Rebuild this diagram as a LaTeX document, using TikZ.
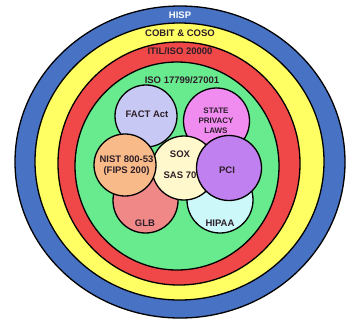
\documentclass[tikz,border=0pt]{standalone}
\usepackage{fontspec}
\setmainfont{Liberation Sans}
\usetikzlibrary{positioning}
\definecolor{hispblue}{RGB}{72,114,196}
\definecolor{cobityellow}{RGB}{255,255,100}
\definecolor{itilred}{RGB}{240,72,72}
\definecolor{isogreen}{RGB}{104,234,142}
\definecolor{factlav}{RGB}{200,200,244}
\definecolor{statepink}{RGB}{240,140,240}
\definecolor{nistpeach}{RGB}{248,186,136}
\definecolor{soxcream}{RGB}{255,248,204}
\definecolor{pcipurple}{RGB}{192,128,240}
\definecolor{glbsalmon}{RGB}{240,136,136}
\definecolor{hipaacyan}{RGB}{204,248,250}
\definecolor{labeldark}{RGB}{45,30,40}

\tikzset{
  ring/.style={draw=black, line width=1.3pt},
  lawlabel/.style={font=\bfseries\fontsize{9.5}{10.7}\selectfont, text=labeldark, align=center, inner sep=0pt},
  smalllabel/.style={lawlabel, font=\bfseries\fontsize{8}{10}\selectfont},
}

\begin{document}
\begin{tikzpicture}[x=1pt,y=-1pt]
            \useasboundingbox (0,0) rectangle (352,322);

            % outer rings
            \filldraw[ring, fill=hispblue] (180,162) ellipse [x radius=165pt, y radius=156pt];
            \filldraw[ring, fill=cobityellow] (179.5,161.5) ellipse [x radius=144.5pt, y radius=138.5pt];
            \filldraw[ring, fill=itilred] (179,163.5) ellipse [x radius=121pt, y radius=121.5pt];
            \filldraw[ring, fill=isogreen] (177,166) ellipse [x radius=102pt, y radius=104pt];

            \node[lawlabel, text=white] (hisp) at (180,15) {HISP};
            \node[lawlabel] (cobit) at (180,33) {COBIT \& COSO};
            \node[lawlabel] (itil) at (180,51) {ITIL/ISO 20000};
            \node[lawlabel] (iso) at (182,80) {ISO 17799/27001};

            % inner circles
            \coordinate (FACT) at (146,116);
            \filldraw[ring, fill=factlav] (FACT) circle (31pt);

            \coordinate (STATE) at (216.5,121);
            \filldraw[ring, fill=statepink] (STATE) circle (33pt);

            \coordinate (GLB) at (145.5,200.5);
            \filldraw[ring, fill=glbsalmon] (GLB) circle (32.5pt);

            \coordinate (HIPAA) at (220,200);
            \filldraw[ring, fill=hipaacyan] (HIPAA) circle (33pt);

            \coordinate (SOX) at (184,168);
            \filldraw[ring, fill=soxcream] (SOX) circle (32pt);

            \coordinate (NIST) at (125,165);
            \filldraw[ring, fill=nistpeach] (NIST) circle (31pt);

            \coordinate (PCI) at (229,168);
            \filldraw[ring, fill=pcipurple] (PCI) circle (32.5pt);

            % labels
            \node[lawlabel] (factlabel) at (147,114) {FACT Act};
            \node[smalllabel] (statelabel) at (216,120.5) {STATE\\PRIVACY\\LAWS};
            \node[lawlabel] (nistlabel) at (126.5,165.5) {NIST 800-53\\(FIPS 200)};
            \node[lawlabel] (soxlabel) at (180,154) {SOX};
            \node[lawlabel, below=14pt of soxlabel] (saslabel) {SAS 70};
            \node[lawlabel] (pcilabel) at (227,170) {PCI};
            \node[lawlabel] (glblabel) at (145,223) {GLB};
            \node[lawlabel] (hipaalabel) at (220,223) {HIPAA};
        \end{tikzpicture}
\end{document}
